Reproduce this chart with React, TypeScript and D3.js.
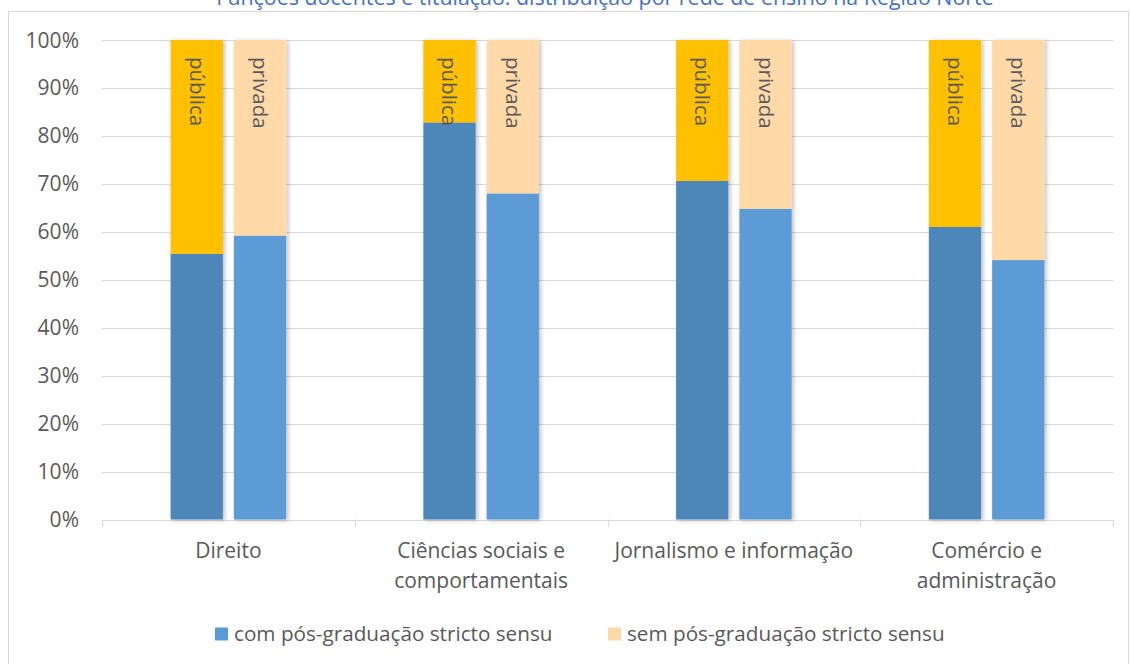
import React from "react";
import * as d3 from "d3";

const title = "Funções docentes e titulação: distribuição por rede de ensino na Região Norte";
const categories = ["Direito", "Ciências sociais e comportamentais", "Jornalismo e informação", "Comércio e administração"];
const categoryLines = [["Direito"], ["Ciências sociais e", "comportamentais"], ["Jornalismo e informação"], ["Comércio e", "administração"]];
const networks = ["pública", "privada"];
const publicaCom = [55.4, 82.8, 70.6, 61.0];
const privadaCom = [59.2, 68.0, 64.8, 54.1];
const yTicks = [0, 10, 20, 30, 40, 50, 60, 70, 80, 90, 100];
const legendLabels = ["com pós-graduação stricto sensu", "sem pós-graduação stricto sensu"];

const W = 1131, H = 664;
const FONT = "'Open Sans', sans-serif";
const TXT = "#595959";
const GRID = "#D9D9D9";
const colCom = { "pública": "#4E87BA", "privada": "#5B9BD5" } as Record<string, string>;
const colSem = { "pública": "#FFC000", "privada": "#FFDAA8" } as Record<string, string>;

export default function App() {
  const left = 102, right = 1113, top = 40, bottom = 519.5;
  const x = d3.scaleBand<string>().domain(categories).range([left, right]).padding(0);
  const inner = d3.scaleBand<string>().domain(networks).range([0, x.bandwidth()]).paddingInner(0.174).paddingOuter(1.084);
  const y = d3.scaleLinear().domain([0, 100]).range([bottom, top]);
  const values: Record<string, number[]> = { "pública": publicaCom, "privada": privadaCom };
  const bw = inner.bandwidth();

  return (
    <svg width={W} height={H} style={{ position: "absolute", left: 0, top: 0, background: "#fff" }} fontFamily={FONT}>
      <defs>
        <filter id="sh" x="-20%" y="-5%" width="150%" height="110%">
          <feDropShadow dx="2" dy="1" stdDeviation="2" floodColor="#000" floodOpacity="0.25" />
        </filter>
      </defs>
      <rect x={8.5} y={11.5} width={1120} height={660} fill="#fff" stroke={GRID} strokeWidth={1} />
      <text x={605} y={5} textAnchor="middle" fontSize={21.4} fill="#4472C4">{title}</text>
      {yTicks.map((t) => (
        <g key={t}>
          <line x1={left} x2={right} y1={Math.round(y(t)) + 0.5} y2={Math.round(y(t)) + 0.5} stroke={GRID} strokeWidth={1} />
          <text x={79} y={y(t) + 7.5} textAnchor="end" fontSize={21} fill={TXT}>{t}%</text>
        </g>
      ))}
      {[...categories.map((c) => x(c) as number), right].map((xx, i) => (
        <line key={i} x1={Math.round(xx) + 0.5} x2={Math.round(xx) + 0.5} y1={bottom} y2={bottom + 7.5} stroke={GRID} strokeWidth={1} />
      ))}
      {categories.map((c, ci) => (
        <g key={c}>
          {networks.map((n) => {
            const bx = (x(c) as number) + (inner(n) as number);
            const v = values[n][ci];
            return (
              <g key={n}>
                <g filter="url(#sh)">
                  <rect x={bx} y={y(v)} width={bw} height={y(0) - y(v)} fill={colCom[n]} />
                  <rect x={bx} y={y(100)} width={bw} height={y(v) - y(100)} fill={colSem[n]} />
                </g>
                <text transform={`translate(${bx + bw / 2 - 7},${y(100) + 17}) rotate(90)`} fontSize={20.5} fill={TXT}>{n}</text>
              </g>
            );
          })}
          {categoryLines[ci].map((ln, li) => (
            <text key={li} x={(x(c) as number) + x.bandwidth() / 2} y={558 + li * 29.5} textAnchor="middle" fontSize={21} fill={TXT}>{ln}</text>
          ))}
        </g>
      ))}
      {legendLabels.map((l, i) => {
        const lx = i === 0 ? 215 : 608;
        return (
          <g key={l}>
            <rect x={lx} y={627.5} width={13} height={13} fill={i === 0 ? colCom["privada"] : colSem["privada"]} />
            <text x={lx + 19} y={641} fontSize={20.7} fill={TXT}>{l}</text>
          </g>
        );
      })}
    </svg>
  );
}
